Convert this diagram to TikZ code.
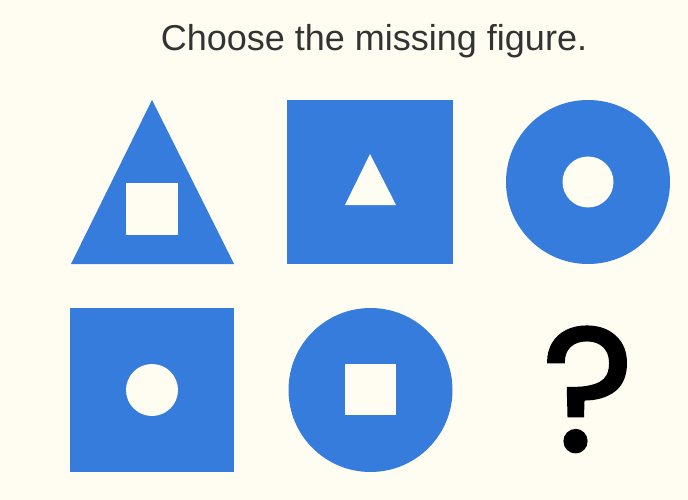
\documentclass[tikz,border=0pt]{standalone}
\usepackage{fontspec}
\setmainfont{Liberation Sans}
\newfontfamily\markfont{Poppins}[FakeBold=1.5]
\usepackage{tikz}
\definecolor{shapeblue}{RGB}{53,124,220}
\definecolor{paper}{RGB}{255,253,241}
\definecolor{inkgray}{RGB}{51,51,51}

\begin{document}
\begin{tikzpicture}[x=1pt,y=-1pt]
			%%%%% START %%%%%
			\fill[paper] (0,0) rectangle (688,500);
			\useasboundingbox (0,0) rectangle (688,500);
			
			\node[anchor=base, text=inkgray, font=\fontsize{36}{42}\selectfont] (title) at (374,51) {Choose the missing figure.};
			
			\fill[shapeblue] (152,100) -- (234,264) -- (71,264) -- cycle;
			\fill[paper] (126,183) rectangle (178,235);
			
			\fill[shapeblue] (287,100) rectangle (453,264);
			\fill[paper] (370,154) -- (396,205) -- (345,205) -- cycle;
			
			\fill[shapeblue] (588,182) circle (82);
			\fill[paper] (588,182) circle (25.5);
			
			\fill[shapeblue] (70,308) rectangle (234,472);
			\fill[paper] (152,390) circle (26);
			
			\fill[shapeblue] (370.5,390) circle (82);
			\fill[paper] (345,364) rectangle (396,415);
			
			\node[anchor=base, inner sep=0pt, font=\markfont\fontsize{176}{180}\selectfont] (missing) at (588,451) {?};
			%%%%% END %%%%%
\end{tikzpicture}
\end{document}
